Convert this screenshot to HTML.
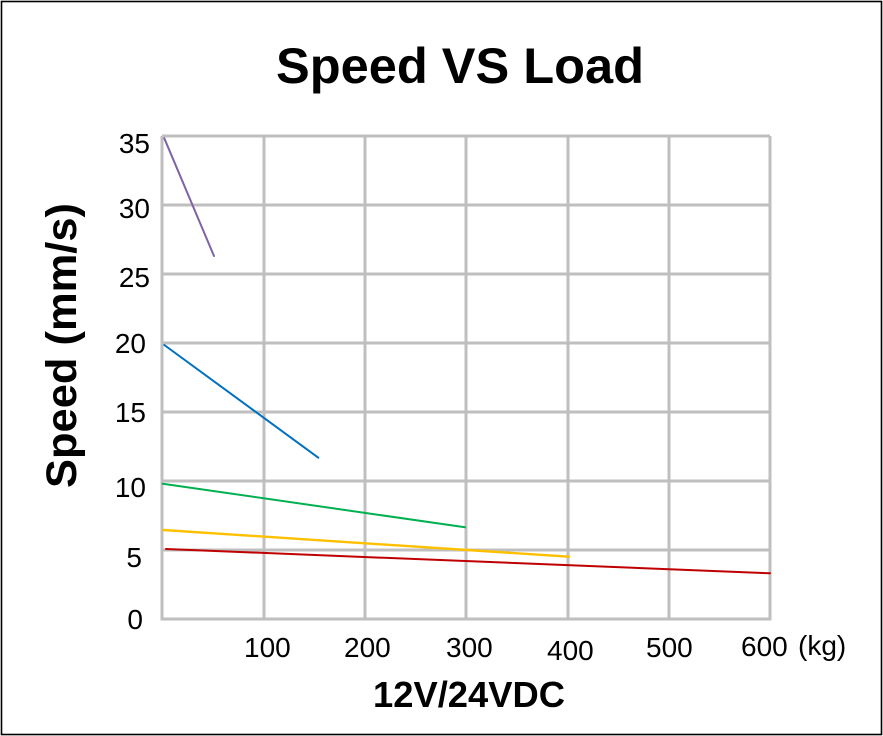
<!DOCTYPE html>
<html>
<head>
<meta charset="utf-8">
<style>
  html, body { margin:0; padding:0; background:#fff; }
  svg { display:block; }
  text { font-family: "Liberation Sans", Arial, sans-serif; fill:#000; }
</style>
</head>
<body>
<svg width="883" height="736" viewBox="0 0 883 736" xmlns="http://www.w3.org/2000/svg">
  <rect x="0" y="0" width="883" height="736" fill="#fff"/>
  <rect x="1.5" y="1.5" width="880" height="733" fill="none" stroke="#000" stroke-width="1.6"/>

  <!-- Title -->
  <text x="276" y="83" font-size="50" font-weight="bold" textLength="368" lengthAdjust="spacingAndGlyphs">Speed VS Load</text>

  <!-- Grid -->
  <g stroke="#bfbfbf" stroke-width="3" fill="none">
    <line x1="162" y1="136" x2="162" y2="619"/>
    <line x1="264" y1="136" x2="264" y2="619"/>
    <line x1="365" y1="136" x2="365" y2="619"/>
    <line x1="466" y1="136" x2="466" y2="619"/>
    <line x1="568" y1="136" x2="568" y2="619"/>
    <line x1="669" y1="136" x2="669" y2="619"/>
    <line x1="770" y1="136" x2="770" y2="619"/>
    <line x1="162" y1="136" x2="770" y2="136"/>
    <line x1="162" y1="205" x2="770" y2="205"/>
    <line x1="162" y1="274" x2="770" y2="274"/>
    <line x1="162" y1="343" x2="770" y2="343"/>
    <line x1="162" y1="412" x2="770" y2="412"/>
    <line x1="162" y1="481" x2="770" y2="481"/>
    <line x1="162" y1="550" x2="770" y2="550"/>
    <line x1="160.5" y1="619" x2="771.5" y2="619"/>
  </g>

  <!-- Series -->
  <g fill="none" stroke-width="2" stroke-linecap="round">
    <line x1="164.3" y1="138.3" x2="214" y2="256" stroke="#7f63a6"/>
    <line x1="164.3" y1="345" x2="318.3" y2="457.7" stroke="#0070c0"/>
    <line x1="162.7" y1="483.7" x2="465" y2="527.3" stroke="#00b050"/>
    <line x1="163.3" y1="530" x2="569" y2="556.7" stroke="#ffc000" stroke-width="2.4"/>
    <line x1="166" y1="549" x2="770" y2="573.3" stroke="#c00000"/>
  </g>

  <!-- Y tick labels -->
  <g font-size="28" text-anchor="end">
    <text x="150" y="153">35</text>
    <text x="150" y="218">30</text>
    <text x="150" y="287">25</text>
    <text x="146" y="353">20</text>
    <text x="146" y="422">15</text>
    <text x="146" y="497">10</text>
    <text x="142" y="567">5</text>
    <text x="143" y="629">0</text>
  </g>

  <!-- X tick labels -->
  <g font-size="28">
    <text x="244" y="657">100</text>
    <text x="344" y="657">200</text>
    <text x="446" y="657">300</text>
    <text x="547" y="660">400</text>
    <text x="646" y="657">500</text>
    <text x="741" y="656">600</text>
    <text x="798" y="655">(kg)</text>
  </g>

  <!-- X axis title -->
  <text x="373" y="707" font-size="36" font-weight="bold" textLength="192" lengthAdjust="spacingAndGlyphs">12V/24VDC</text>

  <!-- Y axis title -->
  <text transform="translate(76,488) rotate(-90)" x="0" y="0" font-size="43" font-weight="bold" textLength="285" lengthAdjust="spacingAndGlyphs">Speed (mm/s)</text>
</svg>
</body>
</html>
